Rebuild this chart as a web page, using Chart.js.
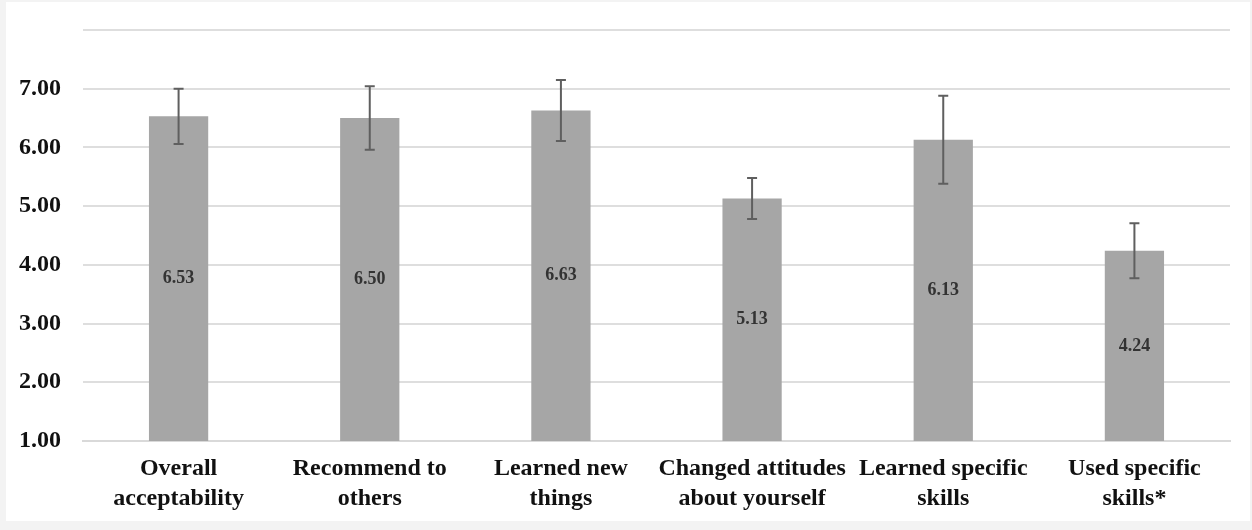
<!DOCTYPE html>
<html>
<head>
<meta charset="utf-8">
<script src="https://cdn.jsdelivr.net/npm/chart.js@4.4.0/dist/chart.umd.min.js"></script>
<style>
  html, body { margin: 0; padding: 0; background: #f3f3f3; }
  #frame { position: absolute; left: 6px; top: 2px; width: 1244px; height: 519px; background: #ffffff; }
  #wrap { position: absolute; left: 0; top: 0; width: 1252px; height: 530px; }
</style>
</head>
<body>
<div id="frame"></div>
<div id="wrap"><canvas id="chartCanvas" width="1252" height="530"></canvas></div>
<script>
const categories = [
  ["Overall", "acceptability"],
  ["Recommend to", "others"],
  ["Learned new", "things"],
  ["Changed attitudes", "about yourself"],
  ["Learned specific", "skills"],
  ["Used specific", "skills*"]
];
const means = [6.53, 6.50, 6.63, 5.13, 6.13, 4.24];
const errors = [0.47, 0.54, 0.52, 0.35, 0.75, 0.47];
const yTicks = [1, 2, 3, 4, 5, 6, 7, 8];

const serif = "'Liberation Serif', 'Times New Roman', serif";

// error bars drawn from the y scale
const errorBars = {
  id: 'errorBars',
  afterDatasetsDraw(chart) {
    const ctx = chart.ctx;
    const y = chart.scales.y;
    const meta = chart.getDatasetMeta(0);
    ctx.save();
    ctx.strokeStyle = '#5f5f5f';
    ctx.lineWidth = 2;
    meta.data.forEach((bar, i) => {
      const top = y.getPixelForValue(means[i] + errors[i]);
      const bot = y.getPixelForValue(means[i] - errors[i]);
      ctx.beginPath();
      ctx.moveTo(bar.x, top); ctx.lineTo(bar.x, bot);
      ctx.moveTo(bar.x - 5, top); ctx.lineTo(bar.x + 5, top);
      ctx.moveTo(bar.x - 5, bot); ctx.lineTo(bar.x + 5, bot);
      ctx.stroke();
    });
    ctx.restore();
  }
};

// value labels in the middle of each bar
const barLabels = {
  id: 'barLabels',
  afterDatasetsDraw(chart) {
    const ctx = chart.ctx;
    const y = chart.scales.y;
    const meta = chart.getDatasetMeta(0);
    ctx.save();
    ctx.font = "bold 18px " + serif;
    ctx.fillStyle = '#333333';
    ctx.textAlign = 'center';
    ctx.textBaseline = 'middle';
    meta.data.forEach((bar, i) => {
      const mid = (y.getPixelForValue(means[i]) + y.getPixelForValue(y.min)) / 2;
      ctx.fillText(means[i].toFixed(2), bar.x, mid);
    });
    ctx.restore();
  }
};

const ctx = document.getElementById("chartCanvas").getContext("2d");
new Chart(ctx, {
  type: 'bar',
  data: {
    labels: categories,
    datasets: [{
      data: means,
      backgroundColor: '#a6a6a6',
      borderWidth: 0,
      barPercentage: 0.31,
      categoryPercentage: 1
    }]
  },
  options: {
    responsive: false,
    animation: false,
    layout: { padding: { left: 0, right: 22, top: 30, bottom: 0 } },
    plugins: { legend: { display: false }, tooltip: { enabled: false } },
    scales: {
      x: {
        grid: { display: false, drawTicks: false },
        border: { color: '#d9d9d9', width: 2 },
        ticks: {
          color: '#111',
          padding: 13,
          maxRotation: 0,
          autoSkip: false,
          font: { family: serif, size: 24, weight: 'bold', lineHeight: 1.25 }
        },
        afterFit(scale) { scale.height = 89; }
      },
      y: {
        min: 1,
        max: 8,
        afterBuildTicks(scale) { scale.ticks = yTicks.map(v => ({ value: v })); },
        grid: { color: '#dedede', lineWidth: 2, drawTicks: false },
        border: { display: false },
        ticks: {
          color: '#111',
          padding: 22,
          font: { family: serif, size: 24, weight: 'bold' },
          callback: v => v === 8 ? '' : v.toFixed(2)
        },
        afterFit(scale) {
          scale.width = 83;
          scale.paddingTop = 0;
          scale.paddingBottom = 0;
        }
      }
    }
  },
  plugins: [errorBars, barLabels]
});
</script>
</body>
</html>
